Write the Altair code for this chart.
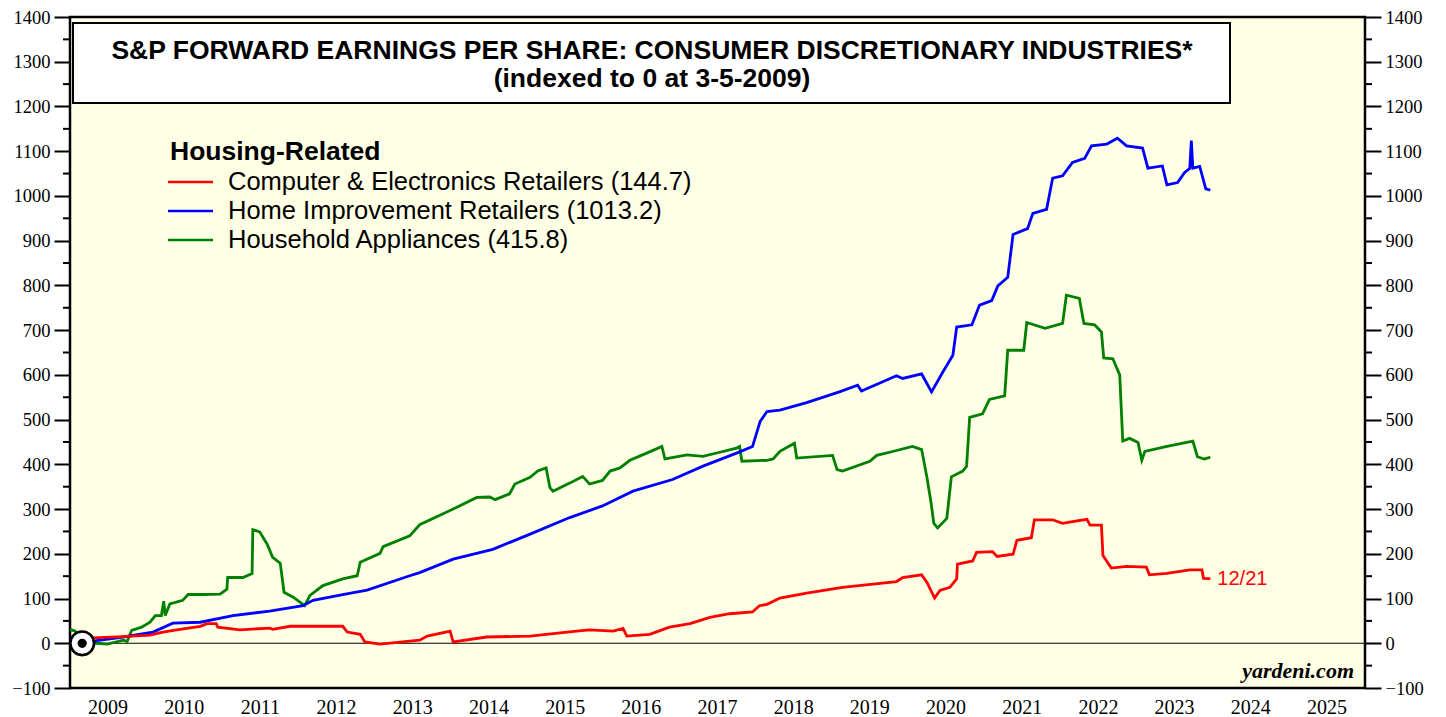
import altair as alt
import pandas as pd

# ---------------- data (fractional year, index value) ----------------
red_t = [2009.00, 2009.18, 2009.30, 2009.70, 2010.05, 2010.22, 2010.40, 2010.71, 2010.80, 2010.92,
         2010.94, 2011.23, 2011.62, 2011.66, 2011.89, 2012.58, 2012.64, 2012.81, 2012.87, 2013.07,
         2013.59, 2013.69, 2013.99, 2014.03, 2014.47, 2015.04, 2015.65, 2015.82, 2016.13, 2016.26,
         2016.31, 2016.61, 2016.87, 2017.14, 2017.40, 2017.66, 2017.96, 2018.05, 2018.15, 2018.32,
         2018.67, 2019.14, 2019.85, 2019.93, 2020.18, 2020.25, 2020.35, 2020.42, 2020.55, 2020.64,
         2020.65, 2020.85, 2020.90, 2021.11, 2021.17, 2021.38, 2021.43, 2021.62, 2021.66, 2021.90,
         2022.03, 2022.16, 2022.35, 2022.39, 2022.54, 2022.56, 2022.67, 2022.87, 2023.13, 2023.17,
         2023.40, 2023.70, 2023.86, 2023.88, 2023.97]
red_v = [4, 0, 12, 15, 18, 25, 30, 38, 44, 44,
         36, 30, 34, 31, 38, 38, 25, 20, 3, -2,
         7, 16, 27, 3, 14, 16, 27, 30, 27, 33,
         16, 20, 36, 44, 58, 66, 70, 84, 87, 101,
         112, 125, 138, 147, 153, 136, 101, 118, 125, 144,
         177, 184, 203, 205, 194, 199, 230, 236, 276, 276,
         268, 272, 277, 264, 264, 196, 168, 172, 170, 153,
         156, 164, 164, 145, 144.7]

blue_t = [2009.00, 2009.18, 2009.35, 2009.70, 2010.09, 2010.35, 2010.71, 2011.14, 2011.62, 2012.06,
          2012.19, 2012.58, 2012.90, 2013.46, 2013.59, 2014.03, 2014.55, 2015.04, 2015.56, 2015.99,
          2016.39, 2016.91, 2017.31, 2017.75, 2017.96, 2018.06, 2018.15, 2018.32, 2018.67, 2019.10,
          2019.34, 2019.39, 2019.85, 2019.93, 2020.18, 2020.31, 2020.46, 2020.59, 2020.64, 2020.84,
          2020.94, 2021.10, 2021.18, 2021.31, 2021.38, 2021.57, 2021.64, 2021.82, 2021.90, 2022.03,
          2022.16, 2022.32, 2022.41, 2022.61, 2022.75, 2022.87, 2023.08, 2023.15, 2023.34, 2023.40,
          2023.54, 2023.63, 2023.70, 2023.72, 2023.74, 2023.83, 2023.91, 2023.97]
blue_v = [14, 0, 6, 14, 25, 45, 47, 62, 72, 84,
          96, 109, 119, 151, 158, 188, 210, 244, 281, 307,
          340, 366, 396, 425, 440, 496, 518, 521, 538, 562,
          577, 564, 598, 592, 602, 562, 607, 644, 707, 712,
          756, 766, 799, 818, 914, 927, 961, 970, 1040, 1045,
          1075, 1084, 1112, 1116, 1129, 1112, 1107, 1062, 1067, 1025,
          1030, 1052, 1062, 1124, 1062, 1066, 1016, 1013.2]

green_t = [2009.00, 2009.07, 2009.18, 2009.35, 2009.49, 2009.70, 2009.75, 2009.81, 2009.94, 2010.05,
           2010.12, 2010.20, 2010.23, 2010.25, 2010.31, 2010.48, 2010.55, 2010.75, 2010.97, 2011.06,
           2011.07, 2011.27, 2011.39, 2011.40, 2011.49, 2011.59, 2011.66, 2011.76, 2011.81, 2011.93,
           2012.08, 2012.15, 2012.32, 2012.58, 2012.77, 2012.81, 2013.07, 2013.11, 2013.46, 2013.59,
           2014.03, 2014.34, 2014.51, 2014.58, 2014.77, 2014.84, 2015.04, 2015.14, 2015.25, 2015.30,
           2015.34, 2015.56, 2015.73, 2015.82, 2015.99, 2016.09, 2016.22, 2016.35, 2016.57, 2016.77,
           2016.81, 2017.10, 2017.31, 2017.53, 2017.75, 2017.79, 2017.82, 2018.15, 2018.23, 2018.32,
           2018.51, 2018.54, 2019.01, 2019.07, 2019.14, 2019.50, 2019.59, 2019.76, 2020.06, 2020.18,
           2020.25, 2020.30, 2020.34, 2020.39, 2020.51, 2020.57, 2020.72, 2020.77, 2020.81, 2020.98,
           2021.07, 2021.27, 2021.31, 2021.52, 2021.56, 2021.80, 2022.03, 2022.08, 2022.25, 2022.31,
           2022.45, 2022.54, 2022.57, 2022.69, 2022.78, 2022.82, 2022.91, 2023.02, 2023.07, 2023.11,
           2023.40, 2023.74, 2023.80, 2023.89, 2023.97]
green_v = [31, 27, 0, 0, -2, 7, 4, 29, 36, 47,
           62, 62, 94, 62, 88, 96, 109, 109, 110, 121,
           147, 147, 156, 254, 249, 221, 192, 179, 114, 103,
           84, 107, 129, 144, 151, 181, 201, 216, 240, 265,
           300, 326, 327, 321, 334, 356, 371, 385, 392, 348,
           340, 358, 373, 356, 364, 385, 392, 409, 425, 440,
           412, 421, 418, 427, 436, 440, 407, 409, 412, 429,
           447, 414, 420, 388, 385, 407, 420, 427, 440, 433,
           370, 318, 268, 258, 279, 372, 385, 396, 505, 513,
           545, 553, 655, 655, 717, 704, 715, 778, 771, 715,
           712, 696, 638, 636, 600, 452, 458, 449, 409, 429,
           440, 452, 417, 412, 415.8]

series_names = ["Computer & Electronics Retailers (144.7)",
                "Home Improvement Retailers (1013.2)",
                "Household Appliances (415.8)"]
series_colors = ["#FF0000", "#0000FF", "#008000"]

title_line1 = "S&P FORWARD EARNINGS PER SHARE: CONSUMER DISCRETIONARY INDUSTRIES*"
title_line2 = "(indexed to 0 at 3-5-2009)"
legend_title = "Housing-Related"
end_label = "12/21"
source_label = "yardeni.com"

anchor_t = [2009.16]
anchor_v = [0]

major_ticks = list(range(-100, 1401, 100))
minor_ticks = list(range(-50, 1351, 100))
year_edges = list(range(2009, 2027))
year_labels = list(range(2009, 2026))

# ---------------- layout ----------------
W, H = 1295, 671
SANS = "Liberation Sans"
SERIF = "Liberation Serif"

xs = alt.Scale(domain=[2009, 2026], nice=False, zero=False)
ys = alt.Scale(domain=[-100, 1400], nice=False, zero=False)

one = pd.DataFrame({"a": [0]})


def y_axis(orient):
    return alt.Axis(
        orient=orient, values=major_ticks, format="d", tickSize=16, tickWidth=2,
        tickColor="black", domain=False, grid=False, title=None, labelFont=SERIF,
        labelFontSize=18.5, labelColor="black", labelPadding=4, labelOverlap=False)


def line_layer(t, v, color):
    df = pd.DataFrame({"t": t, "v": v})
    return alt.Chart(df).mark_line(color=color, strokeWidth=2.8, clip=True).encode(
        x=alt.X("t:Q", scale=xs, axis=None),
        y=alt.Y("v:Q", scale=ys, axis=None),
        order="t:Q",
    )


# left / right axes (labels + major ticks) carried by the minor-tick layers
left_axis = alt.Chart(pd.DataFrame({"m": minor_ticks})).mark_rule(color="black", strokeWidth=2).encode(
    y=alt.Y("m:Q", scale=alt.Scale(domain=[-100, 1400], nice=False, zero=False), axis=y_axis("left")),
    x=alt.value(-7), x2=alt.value(0),
)

right_axis = alt.Chart(pd.DataFrame({"m": minor_ticks})).mark_rule(color="black", strokeWidth=2).encode(
    y=alt.Y("m:Q", scale=alt.Scale(domain=[-100, 1400], nice=False, zero=False), axis=y_axis("right")),
    x=alt.value(W), x2=alt.value(W + 7),
)

# year labels and x ticks
years_df = pd.DataFrame({"year": year_labels})
year_text = alt.Chart(years_df).transform_calculate(mid="datum.year + 0.5").mark_text(
    font=SERIF, fontSize=20, color="black", baseline="alphabetic", align="center").encode(
    x=alt.X("mid:Q", scale=xs, axis=alt.Axis(
        orient="bottom", values=year_edges, labels=False, tickSize=15, tickWidth=2.5,
        tickColor="black", domain=False, grid=False, title=None)),
    y=alt.value(H + 26),
    text=alt.Text("year:N"),
)

# zero line
zero_line = alt.Chart(pd.DataFrame({"z": [0]})).mark_rule(color="black", strokeWidth=1.2).encode(
    y=alt.Y("z:Q", scale=ys, axis=None), x=alt.value(0), x2=alt.value(W))

# title box
title_box = alt.Chart(one).mark_rect(fill="white", stroke="black", strokeWidth=2).encode(
    x=alt.value(3), x2=alt.value(1160), y=alt.value(6), y2=alt.value(86))
title1 = alt.Chart(one).mark_text(font=SANS, fontSize=26.5, fontWeight="bold", color="black",
                                  align="center", baseline="alphabetic").encode(
    x=alt.value(582), y=alt.value(42), text=alt.value(title_line1))
title2 = alt.Chart(one).mark_text(font=SANS, fontSize=26.5, fontWeight="bold", color="black",
                                  align="center", baseline="alphabetic").encode(
    x=alt.value(582), y=alt.value(70), text=alt.value(title_line2))

# legend
legend_layers = [alt.Chart(one).mark_text(font=SANS, fontSize=26.5, fontWeight="bold", color="black",
                                          align="left", baseline="alphabetic").encode(
    x=alt.value(100), y=alt.value(143), text=alt.value(legend_title))]
row_y = [165, 194, 223]
for name, col, ry in zip(series_names, series_colors, row_y):
    legend_layers.append(alt.Chart(one).mark_rule(color=col, strokeWidth=2.5).encode(
        x=alt.value(98), x2=alt.value(143), y=alt.value(ry)))
    legend_layers.append(alt.Chart(one).mark_text(font=SANS, fontSize=25.5, color="black",
                                                  align="left", baseline="middle").encode(
        x=alt.value(158), y=alt.value(ry), text=alt.value(name)))

# end label
end_df = pd.DataFrame({"t": [red_t[-1]], "v": [red_v[-1]], "lab": [end_label]})
end_text = alt.Chart(end_df).mark_text(font=SANS, fontSize=20, color="#FF0000", align="left",
                                       baseline="middle", dx=7).encode(
    x=alt.X("t:Q", scale=xs, axis=None), y=alt.Y("v:Q", scale=ys, axis=None), text="lab:N")

# anchor marker
anchor_df = pd.DataFrame({"t": anchor_t, "v": anchor_v})
anchor_ring = alt.Chart(anchor_df).mark_circle(size=560, color="white", opacity=1,
                                               stroke="black", strokeWidth=2.6).encode(
    x=alt.X("t:Q", scale=xs, axis=None), y=alt.Y("v:Q", scale=ys, axis=None))
anchor_dot = alt.Chart(anchor_df).mark_circle(size=85, color="black", opacity=1).encode(
    x=alt.X("t:Q", scale=xs, axis=None), y=alt.Y("v:Q", scale=ys, axis=None))

source = alt.Chart(one).mark_text(font=SERIF, fontSize=22, fontStyle="italic", fontWeight="bold",
                                  color="black", align="right", baseline="alphabetic").encode(
    x=alt.value(1284), y=alt.value(661), text=alt.value(source_label))

inner = alt.layer(
    year_text, zero_line, title_box, title1, title2, *legend_layers,
    line_layer(green_t, green_v, series_colors[2]),
    line_layer(blue_t, blue_v, series_colors[1]),
    line_layer(red_t, red_v, series_colors[0]),
    end_text, anchor_ring, anchor_dot, source,
)

chart = alt.layer(left_axis, inner, right_axis).resolve_scale(y="independent").properties(
    width=W, height=H,
    padding={"left": 62, "top": 9, "right": 66, "bottom": 31},
    autosize=alt.AutoSizeParams(type="none"),
    background="white",
).configure_view(fill="#FFFFE6", stroke="black", strokeWidth=2.5)

chart.save("out.html", embed_options={"renderer": "svg", "actions": False})
